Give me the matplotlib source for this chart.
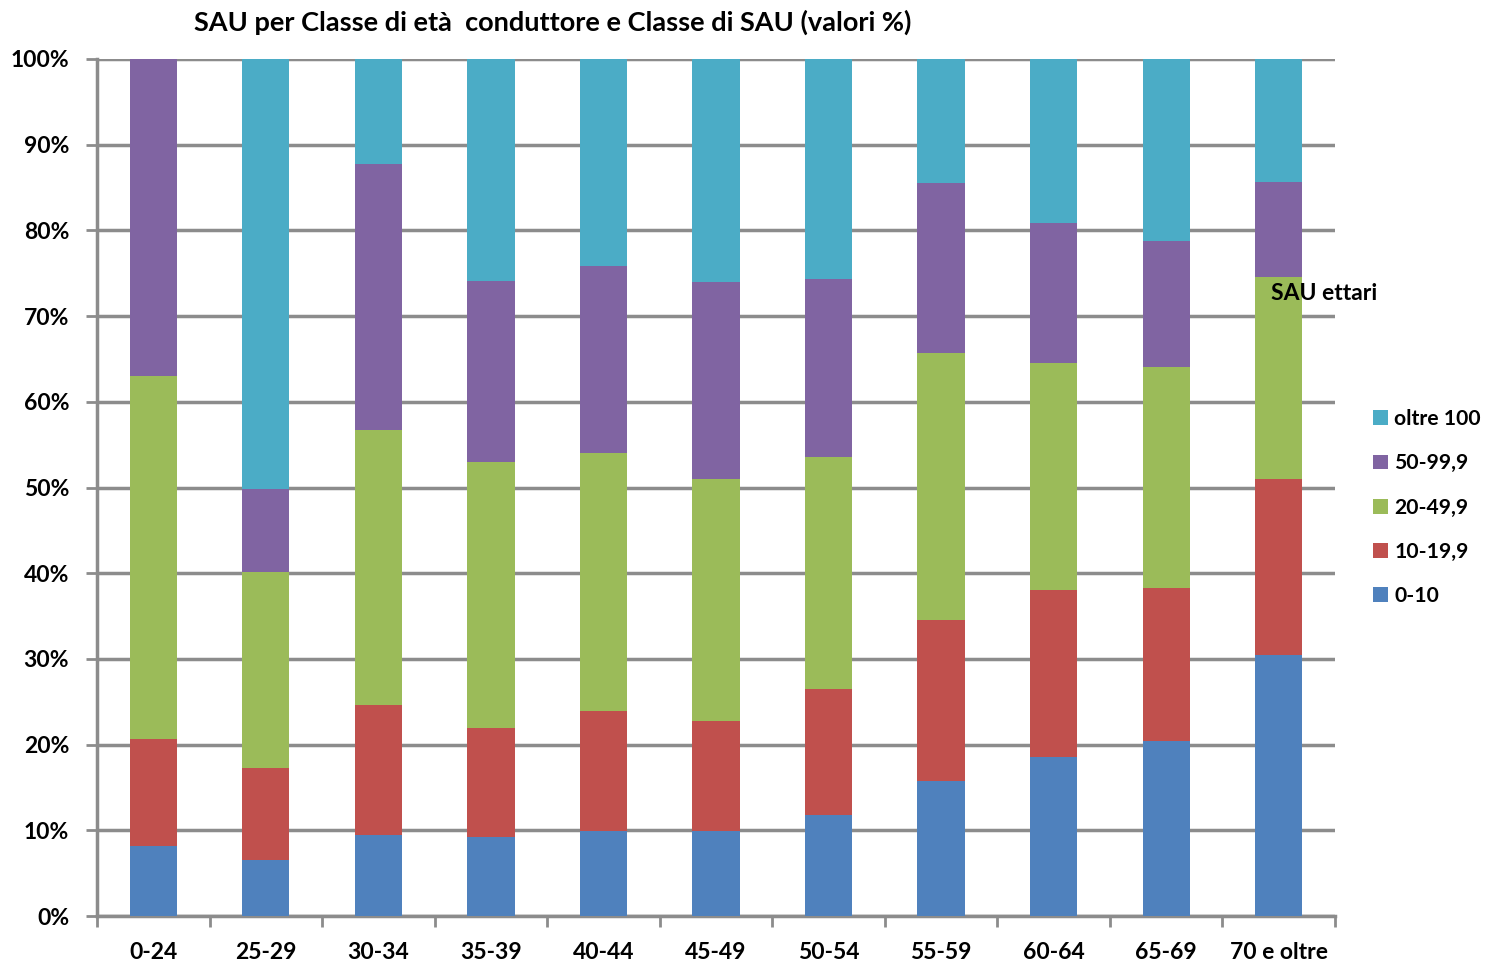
import matplotlib.pyplot as plt
import numpy as np

plt.rcParams['font.family'] = ['Lato', 'DejaVu Sans']
plt.rcParams['font.weight'] = 'bold'

classi_eta = ['0-24', '25-29', '30-34', '35-39', '40-44', '45-49', '50-54',
              '55-59', '60-64', '65-69', '70 e oltre']

# quote % per classe di SAU (ettari)
sau_0_10 = [8.2, 6.5, 9.5, 9.2, 9.9, 9.9, 11.8, 15.8, 18.6, 20.4, 30.5]
sau_10_19 = [12.5, 10.8, 15.1, 12.7, 14.0, 12.9, 14.7, 18.7, 19.4, 17.9, 20.5]
sau_20_49 = [42.3, 22.8, 32.1, 31.1, 30.1, 28.2, 27.1, 31.2, 26.5, 25.8, 23.6]
sau_50_99 = [37.0, 9.7, 31.0, 21.1, 21.8, 23.0, 20.7, 19.8, 16.4, 14.7, 11.0]
sau_oltre_100 = [0.0, 50.2, 12.3, 25.9, 24.2, 26.0, 25.7, 14.5, 19.1, 21.2, 14.4]

serie = [('0-10', sau_0_10, '#4F81BD'),
         ('10-19,9', sau_10_19, '#C0504D'),
         ('20-49,9', sau_20_49, '#9BBB59'),
         ('50-99,9', sau_50_99, '#8064A2'),
         ('oltre 100', sau_oltre_100, '#4BACC6')]

fig = plt.figure(figsize=(14.9, 9.67), dpi=100)
ax = fig.add_axes([0.0651, 0.0527, 0.8309, 0.8863])

x = np.arange(len(classi_eta))
bottom = np.zeros(len(classi_eta))
for nome, vals, col in serie:
    ax.bar(x, vals, width=0.42, bottom=bottom, color=col, label=nome, zorder=3)
    bottom += np.array(vals)

ax.set_xlim(-0.5, len(classi_eta) - 0.5)
ax.set_ylim(0, 100)
ax.set_yticks(range(0, 101, 10))
ax.set_yticklabels([f'{v}%' for v in range(0, 101, 10)], fontsize=16.5)
ax.yaxis.grid(True, color='#8c8c8c', linewidth=2.5, zorder=0)
ax.set_axisbelow(True)

ax.set_xticks(np.arange(-0.5, len(classi_eta), 1.0))
ax.set_xticklabels([])
ax.set_xticks(x, minor=True)
ax.set_xticklabels(classi_eta, minor=True, fontsize=16.5)
ax.tick_params(axis='x', which='minor', length=0, pad=19)
ax.tick_params(axis='x', which='major', length=8, width=2, color='#8c8c8c', direction='out')
ax.tick_params(axis='y', length=8, width=2, color='#8c8c8c', pad=12)

for s in ['top', 'right']:
    ax.spines[s].set_visible(False)
for s in ['left', 'bottom']:
    ax.spines[s].set_color('#8c8c8c')
    ax.spines[s].set_linewidth(2.5)

fig.text(0.371, 0.977, 'SAU per Classe di età  conduttore e Classe di SAU (valori %)',
         ha='center', va='center', fontsize=19.5, fontweight='bold')

fig.text(0.853, 0.697, 'SAU ettari', ha='left', va='center', fontsize=16.5, zorder=5)

handles, labels = ax.get_legend_handles_labels()
leg = fig.legend(handles[::-1], labels[::-1], loc='center left',
                 bbox_to_anchor=(0.916, 0.475), frameon=False, fontsize=15.2,
                 handlelength=0.7, handleheight=0.7, handletextpad=0.3,
                 labelspacing=1.15, borderaxespad=0)

fig.savefig('out.png', dpi=100)
